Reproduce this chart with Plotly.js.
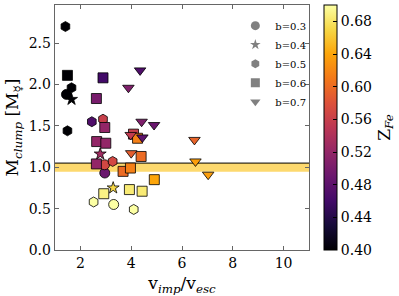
<!DOCTYPE html>
<html>
<head>
<meta charset="utf-8">
<script src="https://cdn.plot.ly/plotly-3.0.1.min.js"></script>
<style>html,body{margin:0;padding:0;background:#fff;}#chart{width:399px;height:296px;}</style>
</head>
<body>
<div id="chart"></div>
<script>
// b = 0.3 (circles)
const b03_v = [1.45, 2.96, 2.95, 3.31];
const b03_m = [1.88, 0.93, 1.03, 0.55];
const b03_z = [0.40, 0.49, 0.57, 0.70];
// b = 0.4 (stars)
const b04_v = [1.65, 2.78, 3.29];
const b04_m = [1.82, 1.16, 0.75];
const b04_z = [0.40, 0.53, 0.67];
// b = 0.5 (hexagons)
const b05_v = [1.41, 1.49, 1.65, 2.45, 2.89, 3.27, 2.52, 4.10];
const b05_m = [2.70, 1.44, 1.96, 1.55, 1.58, 1.07, 0.58, 0.49];
const b05_z = [0.40, 0.40, 0.40, 0.47, 0.56, 0.57, 0.70, 0.70];
// b = 0.6 (squares)
const b06_v = [1.49, 2.89, 2.63, 2.96, 2.64, 3.00, 2.63, 4.09, 4.25, 4.39, 3.68, 3.97, 4.91, 3.93, 4.43, 2.92];
const b06_m = [2.11, 2.08, 1.83, 1.48, 1.31, 1.29, 1.04, 1.40, 1.35, 1.13, 0.95, 0.99, 0.85, 0.73, 0.71, 0.68];
const b06_z = [0.40, 0.46, 0.50, 0.52, 0.52, 0.52, 0.52, 0.56, 0.615, 0.60, 0.60, 0.615, 0.64, 0.685, 0.685, 0.69];
// b = 0.7 (downward triangles)
const b07_v = [4.35, 3.89, 4.41, 4.90, 3.98, 4.44, 4.00, 6.49, 6.53, 7.03];
const b07_m = [2.17, 1.96, 1.55, 1.51, 1.39, 1.36, 1.17, 1.33, 1.07, 0.91];
const b07_z = [0.47, 0.505, 0.505, 0.49, 0.555, 0.48, 0.59, 0.595, 0.635, 0.635];

const legendNames = ['b=0.3', 'b=0.4', 'b=0.5', 'b=0.6', 'b=0.7'];
const symbols = ['circle', 'star', 'hexagon', 'square', 'triangle-down'];

const inferno = [
  [0.0, '#000004'], [0.1, '#160b39'], [0.2, '#420a68'], [0.3, '#6a176e'],
  [0.4, '#932667'], [0.5, '#bc3754'], [0.6, '#dd513a'], [0.7, '#f37819'],
  [0.8, '#fca50a'], [0.9, '#f6d746'], [1.0, '#fcffa4']
];

const FONT = 'DejaVu Serif, Liberation Serif, serif';
const series = [
  [b03_v, b03_m, b03_z], [b04_v, b04_m, b04_z], [b05_v, b05_m, b05_z],
  [b06_v, b06_m, b06_z], [b07_v, b07_m, b07_z]
];

const traces = [];
series.forEach((s, i) => {
  traces.push({
    type: 'scatter', mode: 'markers', x: s[0], y: s[1], showlegend: false,
    hoverinfo: 'skip',
    marker: {
      symbol: symbols[i], size: symbols[i] === 'star' ? 9 : 10,
      color: s[2], colorscale: inferno, cmin: 0.40, cmax: 0.70,
      line: {color: '#000', width: 0.8},
      showscale: i === 0,
      colorbar: i === 0 ? {
        x: 1.059, xanchor: 'left', xref: 'paper', y: 0.5, yanchor: 'middle',
        len: 1, lenmode: 'fraction', thickness: 13, thicknessmode: 'pixels',
        outlinewidth: 1, outlinecolor: '#000',
        tickvals: [0.40, 0.44, 0.48, 0.52, 0.56, 0.60, 0.64, 0.68],
        tickformat: '.2f', ticks: 'inside', ticklen: 4, tickcolor: '#000',
        tickfont: {family: FONT, size: 14, color: '#000'}, xpad: 0, ypad: 0
      } : undefined
    }
  });
});
// legend entries (gray markers)
legendNames.forEach((n, i) => {
  traces.push({
    type: 'scatter', mode: 'markers', x: [null], y: [null], name: n,
    marker: {symbol: symbols[i], size: symbols[i] === 'star' ? 8 : 9, color: '#808080'}
  });
});

const axisCommon = {
  showgrid: false, zeroline: false, showline: true, mirror: 'ticks',
  linecolor: '#666', linewidth: 1.3, ticks: 'inside', ticklen: 4,
  tickcolor: '#666', tickfont: {family: FONT, size: 14, color: '#000'}
};

const layout = {
  width: 399, height: 296,
  margin: {l: 55, r: 90, t: 5, b: 46},
  paper_bgcolor: '#fff', plot_bgcolor: '#fff',
  font: {family: FONT, color: '#000'},
  xaxis: Object.assign({}, axisCommon, {
    range: [1, 11], tickvals: [2, 4, 6, 8, 10],
    title: {text: 'v<sub><i>imp</i></sub>/v<sub><i>esc</i></sub>', font: {family: FONT, size: 17}, standoff: 7}
  }),
  yaxis: Object.assign({}, axisCommon, {
    range: [0, 2.96], tickvals: [0, 0.5, 1.0, 1.5, 2.0, 2.5], tickformat: '.1f',
    title: {text: 'M<sub><i>clump</i></sub> [M<sub>☿</sub>]', font: {family: FONT, size: 17}, standoff: 5}
  }),
  showlegend: true,
  legend: {
    x: 0.71, y: 0.975, xanchor: 'left', yanchor: 'top', bgcolor: 'rgba(0,0,0,0)',
    font: {family: FONT, size: 10, color: '#000'}, tracegroupgap: 0, itemwidth: 30
  },
  shapes: [
    {type: 'rect', xref: 'paper', x0: 0, x1: 1, yref: 'y', y0: 0.945, y1: 1.05,
     fillcolor: '#fdd96e', line: {width: 0}, layer: 'below'},
    {type: 'line', xref: 'paper', x0: 0, x1: 1, yref: 'y', y0: 1.05, y1: 1.05,
     line: {color: '#000', width: 1}, layer: 'below'}
  ],
  annotations: [
    {text: 'Z<sub><i>Fe</i></sub>', xref: 'paper', yref: 'paper', x: 1.30, y: 0.5,
     xanchor: 'center', yanchor: 'middle', textangle: -90, showarrow: false,
     font: {family: FONT, size: 17, color: '#000'}}
  ]
};

Plotly.newPlot('chart', traces, layout, {displayModeBar: false, staticPlot: true});
</script>
</body>
</html>
